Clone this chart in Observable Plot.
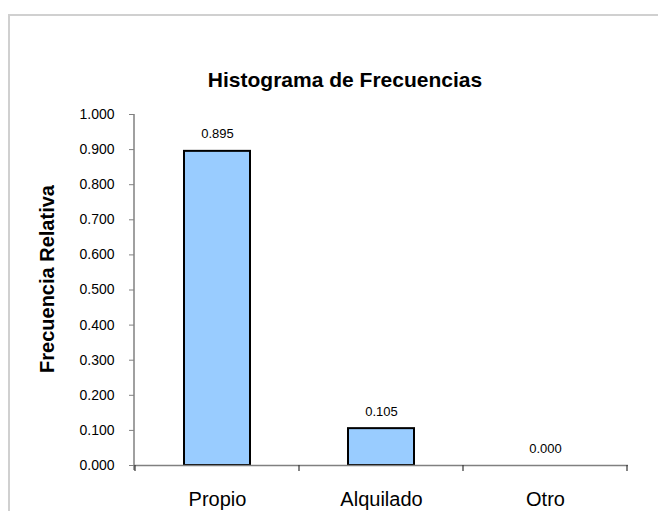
<!DOCTYPE html>
<html><head><meta charset="utf-8">
<script src="https://cdn.jsdelivr.net/npm/d3@7"></script>
<script src="https://cdn.jsdelivr.net/npm/@observablehq/plot@0.6"></script>
<style>
html,body{margin:0;padding:0;width:658px;height:511px;overflow:hidden;background:#fff;font-family:"Liberation Sans",Arial,sans-serif;}
#frame{position:absolute;left:8px;top:14px;width:800px;height:700px;border:2px solid #d0d0d0;box-sizing:border-box}
#chart{position:absolute;left:0;top:0}
#title{position:absolute;left:0;width:690px;top:69px;text-align:center;font-weight:bold;font-size:21px;line-height:1;color:#000}
#ylabel{position:absolute;left:47px;top:279px;transform:translate(-50%,-50%) rotate(-90deg);white-space:nowrap;font-weight:bold;font-size:20px;line-height:1;color:#000}
</style></head><body>
<div id="frame"></div>
<div id="chart"></div>
<div id="title"></div>
<div id="ylabel"></div>
<script>
const categories = ["Propio", "Alquilado", "Otro"];
const values = [0.895, 0.105, 0.000];
const valueLabels = ["0.895", "0.105", "0.000"];
const yTicks = [0, 0.1, 0.2, 0.3, 0.4, 0.5, 0.6, 0.7, 0.8, 0.9, 1.0];
const titleText = "Histograma de Frecuencias";
const yLabelText = "Frecuencia Relativa";

document.getElementById("title").textContent = titleText;
document.getElementById("ylabel").textContent = yLabelText;

const data = categories.map((c, i) => ({c, v: values[i], label: valueLabels[i]}));
const axisGray = "#808080";

const plot = Plot.plot({
  width: 658, height: 511,
  marginLeft: 134, marginRight: 30, marginTop: 114, marginBottom: 46,
  style: {fontFamily: "'Liberation Sans', Arial, sans-serif", background: "transparent", color: "#000"},
  x: {domain: categories, paddingInner: 0.6, paddingOuter: 0.3, label: null},
  y: {domain: [0, 1], label: null},
  marks: [
    Plot.axisY({ticks: yTicks, tickFormat: d3.format(".3f"), tickSize: 5, tickPadding: 15, fontSize: 14, stroke: axisGray, fill: "#000", label: null}),
    Plot.axisX({tickSize: 0, tickPadding: 26, fontSize: 20, fill: "#000", label: null}),
    Plot.barY(data, {x: "c", y: "v", fill: "#99ccff", stroke: "#000", strokeWidth: 2}),
    Plot.ruleY([0], {stroke: axisGray, strokeWidth: 1.5}),
    Plot.text(data, {x: "c", y: "v", text: "label", dy: -13, lineAnchor: "bottom", fontSize: 13, fill: "#000"})
  ]
});
document.getElementById("chart").appendChild(plot);

// y-axis line and category boundary ticks, derived from the plot's scales
const xs = plot.scale("x"), ys = plot.scale("y");
const svg = d3.select(plot);
const y0 = ys.apply(0), y1 = ys.apply(1);
const xLeft = xs.range[0];
svg.append("line").attr("x1", xLeft).attr("x2", xLeft).attr("y1", y1).attr("y2", y0 + 5)
  .attr("stroke", axisGray).attr("stroke-width", 1.5);
const bounds = categories.map(c => xs.apply(c) + xs.bandwidth / 2 - xs.step / 2);
bounds.push(xs.apply(categories[categories.length - 1]) + xs.bandwidth / 2 + xs.step / 2);
svg.append("g").selectAll("line").data(bounds).join("line")
  .attr("x1", d => d).attr("x2", d => d).attr("y1", y0).attr("y2", y0 + 6)
  .attr("stroke", "#333").attr("stroke-width", 1.2);
</script>
</body></html>
